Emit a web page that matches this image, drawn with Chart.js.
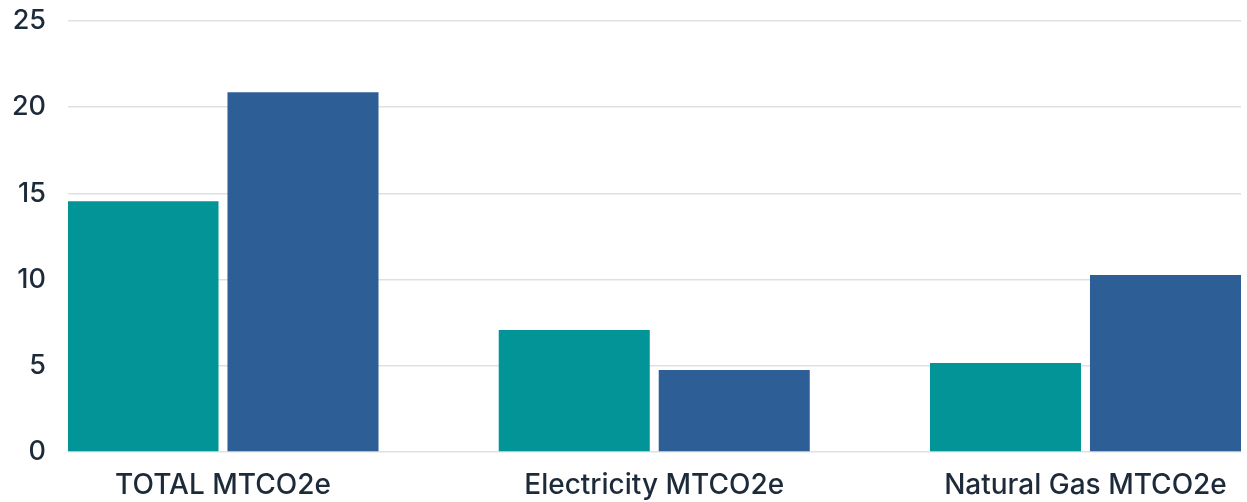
<!DOCTYPE html>
<html>
<head>
<meta charset="utf-8">
<script src="https://cdn.jsdelivr.net/npm/chart.js@4/dist/chart.umd.min.js"></script>
<style>
  html, body { margin: 0; padding: 0; background: #fff; }
  #wrap { width: 1247px; height: 502px; }
</style>
</head>
<body>
<div id="wrap"><canvas id="emissionsChart"></canvas></div>
<script>
// categories and values
const categories = ["TOTAL MTCO2e", "Electricity MTCO2e", "Natural Gas MTCO2e"];
const seriesA = [14.55, 7.07, 5.16];   // teal
const seriesB = [20.87, 4.75, 10.27];  // blue
const yTicks = [0, 5, 10, 15, 20, 25];

const textColor = "#1c2a3a";
const fontFamily = "Inter, 'Noto Sans', sans-serif";

function toPoints(values) {
  return values.map((v, i) => ({ x: i, y: v }));
}

new Chart(document.getElementById("emissionsChart"), {
  type: "bar",
  data: {
    datasets: [
      { label: "A", data: toPoints(seriesA), backgroundColor: "#029496" },
      { label: "B", data: toPoints(seriesB), backgroundColor: "#2d5e96" }
    ]
  },
  options: {
    responsive: true,
    maintainAspectRatio: false,
    animation: false,
    categoryPercentage: 0.742,
    barPercentage: 0.944,
    layout: { padding: { top: 21, right: 6, left: 0, bottom: 0 } },
    plugins: { legend: { display: false }, tooltip: { enabled: false } },
    scales: {
      x: {
        type: "linear",
        offset: false,
        min: -0.3594,
        max: 2.3606,
        grid: { display: false },
        border: { display: false },
        afterFit: s => { s.height = 50; s.paddingLeft = 0; s.paddingRight = 0; },
        afterBuildTicks: s => { s.ticks = categories.map((c, i) => ({ value: i })); },
        ticks: {
          autoSkip: false,
          maxRotation: 0,
          padding: 9,
          color: textColor,
          font: { family: fontFamily, size: 28, weight: "500" },
          callback: v => categories[v]
        }
      },
      y: {
        min: yTicks[0],
        max: yTicks[yTicks.length - 1],
        afterBuildTicks: s => { s.ticks = yTicks.map(v => ({ value: v })); },
        afterFit: s => { s.width = 68; s.paddingTop = 0; s.paddingBottom = 0; },
        border: { display: false },
        grid: { color: "#dde1e6", lineWidth: 1.5, drawTicks: false },
        ticks: {
          padding: 22,
          color: textColor,
          font: { family: fontFamily, size: 27, weight: "500" }
        }
      }
    }
  }
});
</script>
</body>
</html>
